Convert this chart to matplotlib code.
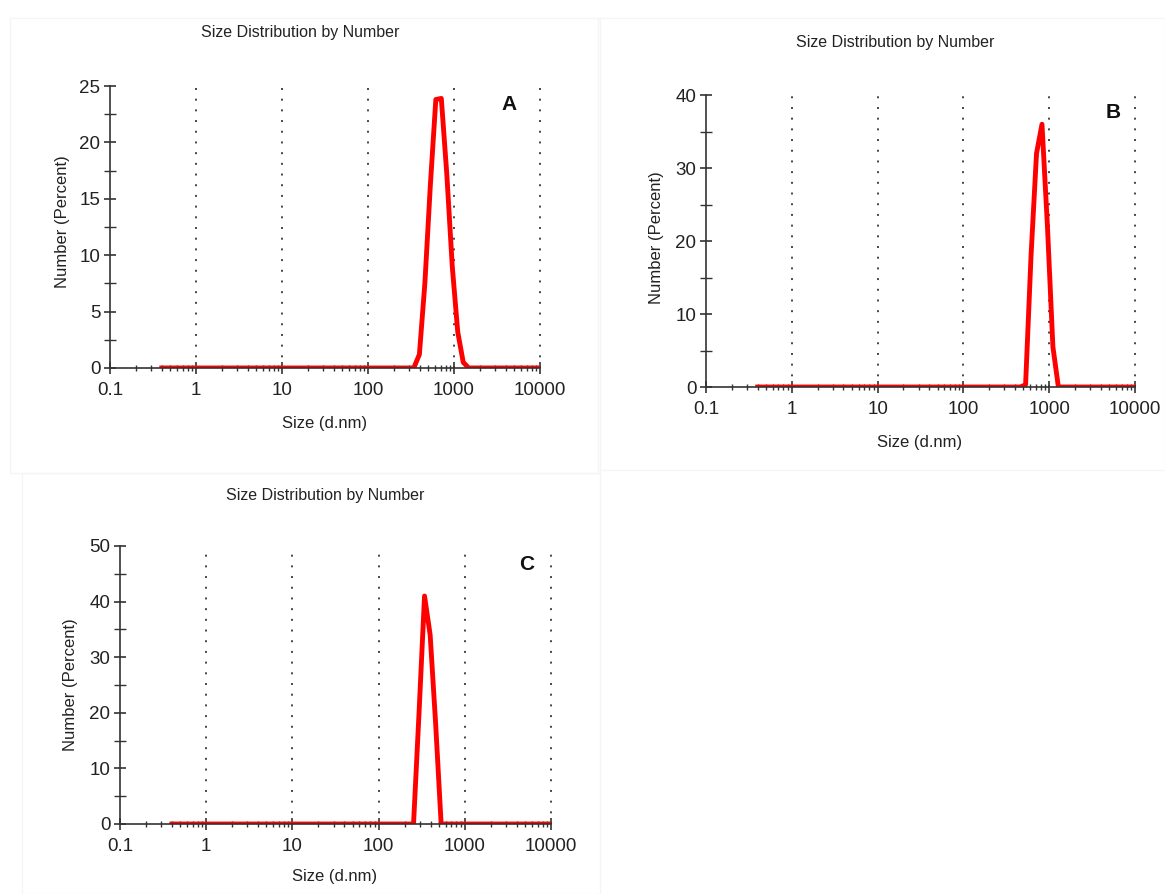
import numpy as np
import matplotlib.pyplot as plt
from matplotlib.ticker import LogLocator, FixedLocator, NullFormatter, MultipleLocator

plt.rcParams["font.family"] = ["Liberation Sans", "DejaVu Sans"]

# Zetasizer size bins (d.nm) and number % for the three samples
size_a = [0.4, 294.3, 340.8, 396.1, 458.7, 531.2, 615.1, 712.4, 825.0, 955.4, 1106, 1281, 1484, 10000]
num_a = [0, 0, 0, 1.2, 7.5, 16.2, 23.8, 23.9, 17.2, 9.0, 3.2, 0.5, 0, 0]

size_b = [0.4, 458.7, 531.2, 615.1, 712.4, 825.0, 955.4, 1106, 1281, 10000]
num_b = [0, 0, 0.3, 18.0, 32.0, 36.0, 22.0, 5.5, 0, 0]

size_c = [0.4, 219.4, 254.1, 294.3, 340.8, 396.1, 458.7, 531.2, 10000]
num_c = [0, 0, 0, 20.0, 41.0, 34.0, 18.0, 0, 0]

panels = [
    # data, letter, ymax, ystep, axes rect, title pos, letter pos, xlabel pos, ylabel pos
    (size_a, num_a, "A", 25, 5, [0.0944, 0.5884, 0.3691, 0.3154], (300, 33), (509, 105), (325, 423), (62, 222)),
    (size_b, num_b, "B", 40, 10, [0.6060, 0.5671, 0.3682, 0.3266], (895, 42), (1113, 112), (920, 443), (657, 238)),
    (size_c, num_c, "C", 50, 10, [0.1030, 0.0783, 0.3700, 0.3110], (325, 495), (527, 565), (335, 877), (70, 685)),
]

W, H = 1165, 894
fig = plt.figure(figsize=(W / 100, H / 100), dpi=100)
txt = "#222222"

# faint frames of the original pasted panels
for (x0, y0, x1, y1) in [(10, 18, 600, 473), (598, 18, 1165, 470), (22, 473, 600, 894)]:
    fig.patches.append(plt.Rectangle((x0 / W, 1 - y1 / H), (x1 - x0) / W, (y1 - y0) / H,
                                     transform=fig.transFigure, fill=False,
                                     edgecolor="#f5f5f5", linewidth=1))

for sx, sy, letter, ymax, ystep, rect, tpos, lpos, xlpos, ylpos in panels:
    ax = fig.add_axes(rect)
    ax.plot(sx, sy, color="#ff0000", linewidth=3.5, solid_joinstyle="round")
    ax.set_xscale("log")
    ax.set_xlim(0.1, 10000)
    ax.set_ylim(0, ymax)
    for v in [1, 10, 100, 1000, 10000]:
        ax.axvline(v, color="#444444", linestyle=(0, (1, 4.5)), linewidth=1.4,
                   zorder=0, clip_on=False)

    ax.spines["top"].set_visible(False)
    ax.spines["right"].set_visible(False)
    for s in ["left", "bottom"]:
        ax.spines[s].set_color("#333333")
        ax.spines[s].set_linewidth(1.2)

    ax.xaxis.set_major_locator(FixedLocator([0.1, 1, 10, 100, 1000, 10000]))
    ax.set_xticklabels(["0.1", "1", "10", "100", "1000", "10000"])
    ax.xaxis.set_minor_locator(LogLocator(base=10, subs=np.arange(2, 10), numticks=20))
    ax.xaxis.set_minor_formatter(NullFormatter())
    ax.yaxis.set_major_locator(MultipleLocator(ystep))
    ax.yaxis.set_minor_locator(MultipleLocator(ystep / 2))

    ax.tick_params(which="major", direction="inout", length=8, width=1.2,
                   color="#333333", labelsize=13.5, labelcolor=txt)
    ax.tick_params(axis="x", which="major", pad=6)
    ax.tick_params(axis="y", which="major", pad=3)
    ax.tick_params(axis="x", which="minor", direction="inout", length=4, width=1.0, color="#333333")
    ax.tick_params(axis="y", which="minor", direction="inout", length=8, width=1.0, color="#333333")

    fig.text(tpos[0] / W, 1 - tpos[1] / H, "Size Distribution by Number",
             ha="center", va="center", fontsize=11.5, color=txt)
    fig.text(lpos[0] / W, 1 - lpos[1] / H, letter, ha="center", va="center",
             fontsize=15, fontweight="bold", color="#111111")
    fig.text(xlpos[0] / W, 1 - xlpos[1] / H, "Size (d.nm)", ha="center", va="center",
             fontsize=12, color=txt)
    fig.text(ylpos[0] / W, 1 - ylpos[1] / H, "Number (Percent)", ha="center", va="center",
             fontsize=12, color=txt, rotation=90)

plt.savefig("out.png", dpi=100)
